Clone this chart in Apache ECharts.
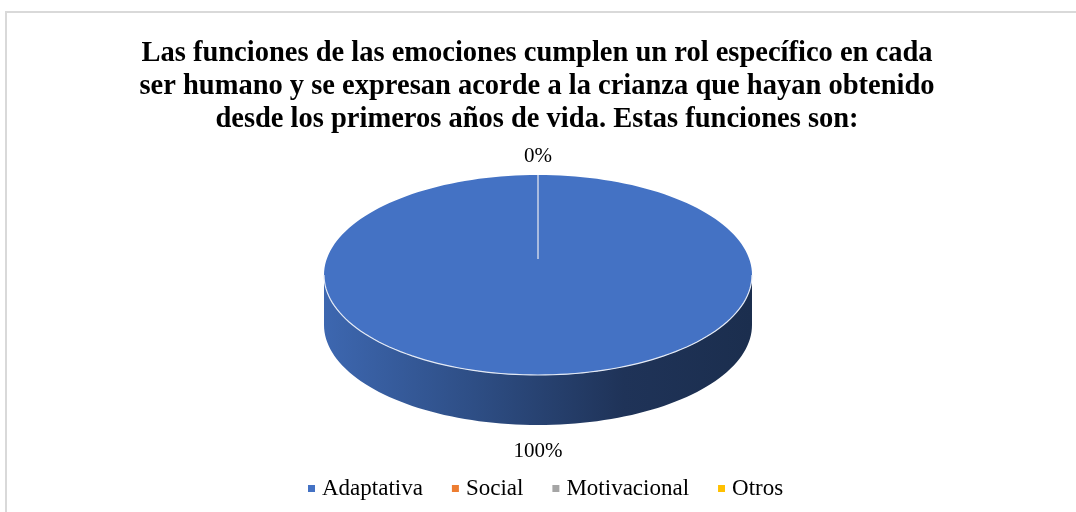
<!DOCTYPE html>
<html>
<head>
<meta charset="utf-8">
<script src="https://cdn.jsdelivr.net/npm/echarts@6/dist/echarts.min.js"></script>
<style>
  html, body { margin: 0; padding: 0; background: #fff; }
  #main { width: 1076px; height: 512px; }
</style>
</head>
<body>
<div id="main"></div>
<script>
const titleLines = [
  'Las funciones de las emociones cumplen un rol específico en cada',
  'ser humano y se expresan acorde a la crianza que hayan obtenido',
  'desde los primeros años de vida. Estas funciones son:'
];
const categories = ['Adaptativa', 'Social', 'Motivacional', 'Otros'];
const values = [100, 0, 0, 0];
const colors = ['#4472c4', '#ed7d31', '#a5a5a5', '#ffc000'];

const total = values.reduce((a, b) => a + b, 0);
const starts = [];
let acc = 0;
values.forEach(v => { starts.push(acc); acc += v; });
const firstZero = values.indexOf(0);

// 3d pie geometry
const cx = 538, cy = 275, rx = 214, ry = 100, depth = 50, hubLift = 16;

function pt(deg, dy) {
  const r = deg * Math.PI / 180;
  return [cx + rx * Math.sin(r), cy - ry * Math.cos(r) + (dy || 0)];
}
function arc(a0, a1, dy) {
  const pts = [];
  const n = Math.max(2, Math.ceil((a1 - a0) / 2));
  for (let i = 0; i <= n; i++) pts.push(pt(a0 + (a1 - a0) * i / n, dy));
  return pts;
}
function shade(hex, k) {
  const n = parseInt(hex.slice(1), 16);
  const r = Math.round(((n >> 16) & 255) * k), g = Math.round(((n >> 8) & 255) * k), b = Math.round((n & 255) * k);
  return 'rgb(' + r + ',' + g + ',' + b + ')';
}

function renderItem(params, api) {
  const i = params.seriesIndex;
  const v = api.value(0), s = api.value(1);
  const a0 = s / total * 360, a1 = (s + v) / total * 360;
  const children = [];
  const hub = [cx, cy - hubLift];

  // side wall (front half only)
  const f0 = Math.max(a0, 90), f1 = Math.min(a1, 270);
  if (f1 > f0) {
    const top = arc(f0, f1, 0);
    const bot = arc(f0, f1, depth).reverse();
    children.push({
      type: 'polygon',
      shape: { points: top.concat(bot) },
      style: {
        fill: new echarts.graphic.LinearGradient(0, 0, 1, 0, [
          { offset: 0, color: shade(colors[i], 0.9) },
          { offset: 0.35, color: shade(colors[i], 0.68) },
          { offset: 0.7, color: shade(colors[i], 0.45) },
          { offset: 1, color: shade(colors[i], 0.4) }
        ])
      }
    });
  }
  if (a1 > a0) {
    children.push({
      type: 'polygon',
      shape: { points: [hub].concat(arc(a0, a1, 0)) },
      style: { fill: colors[i] }
    });
    if (f1 > f0) {
      children.push({
        type: 'polyline',
        shape: { points: arc(f0, f1, 0) },
        style: { stroke: '#e4eaf5', lineWidth: 1.2, fill: null }
      });
    }
    [a0, a1].forEach(a => {
      children.push({
        type: 'line',
        shape: { x1: hub[0], y1: hub[1], x2: pt(a)[0], y2: pt(a)[1] },
        style: { stroke: '#a9bbdf', lineWidth: 2 }
      });
    });
  }

  // data label (zero slices share one spot, print it once)
  if (v > 0 || i === firstZero) {
    const mid = (a0 + a1) / 2;
    const p = pt(mid);
    const front = Math.cos(mid * Math.PI / 180) < 0;
    children.push({
      type: 'text',
      x: p[0] + Math.sin(mid * Math.PI / 180) * 20,
      y: front ? p[1] + depth + 26 : p[1] - 19,
      style: {
        text: Math.round(v / total * 100) + '%', fill: '#000', fontSize: 21,
        fontFamily: 'Liberation Serif', align: 'center', verticalAlign: 'middle'
      }
    });
  }
  return { type: 'group', children: children };
}

const chart = echarts.init(document.getElementById('main'));
chart.setOption({
  backgroundColor: '#fff',
  animation: false,
  color: colors,
  title: {
    text: titleLines.join('\n'),
    left: 532,
    top: 32,
    textAlign: 'center',
    textStyle: {
      fontFamily: 'Liberation Serif', fontWeight: 'bold', fontSize: 28.5,
      lineHeight: 33, color: '#000'
    }
  },
  legend: {
    data: categories,
    top: 472,
    left: 303,
    icon: 'rect',
    itemWidth: 7,
    itemHeight: 7,
    itemGap: 29,
    textStyle: { fontFamily: 'Liberation Serif', fontSize: 23, color: '#000', padding: [0, 0, 0, 2] }
  },
  graphic: [{
    type: 'rect',
    shape: { x: 6, y: 12, width: 1100, height: 600 },
    style: { fill: null, stroke: '#d9d9d9', lineWidth: 2 },
    silent: true
  }],
  series: categories.map((name, i) => ({
    name: name,
    type: 'custom',
    coordinateSystem: 'none',
    itemStyle: { color: colors[i] },
    renderItem: renderItem,
    data: [[values[i], starts[i]]]
  }))
});
</script>
</body>
</html>
